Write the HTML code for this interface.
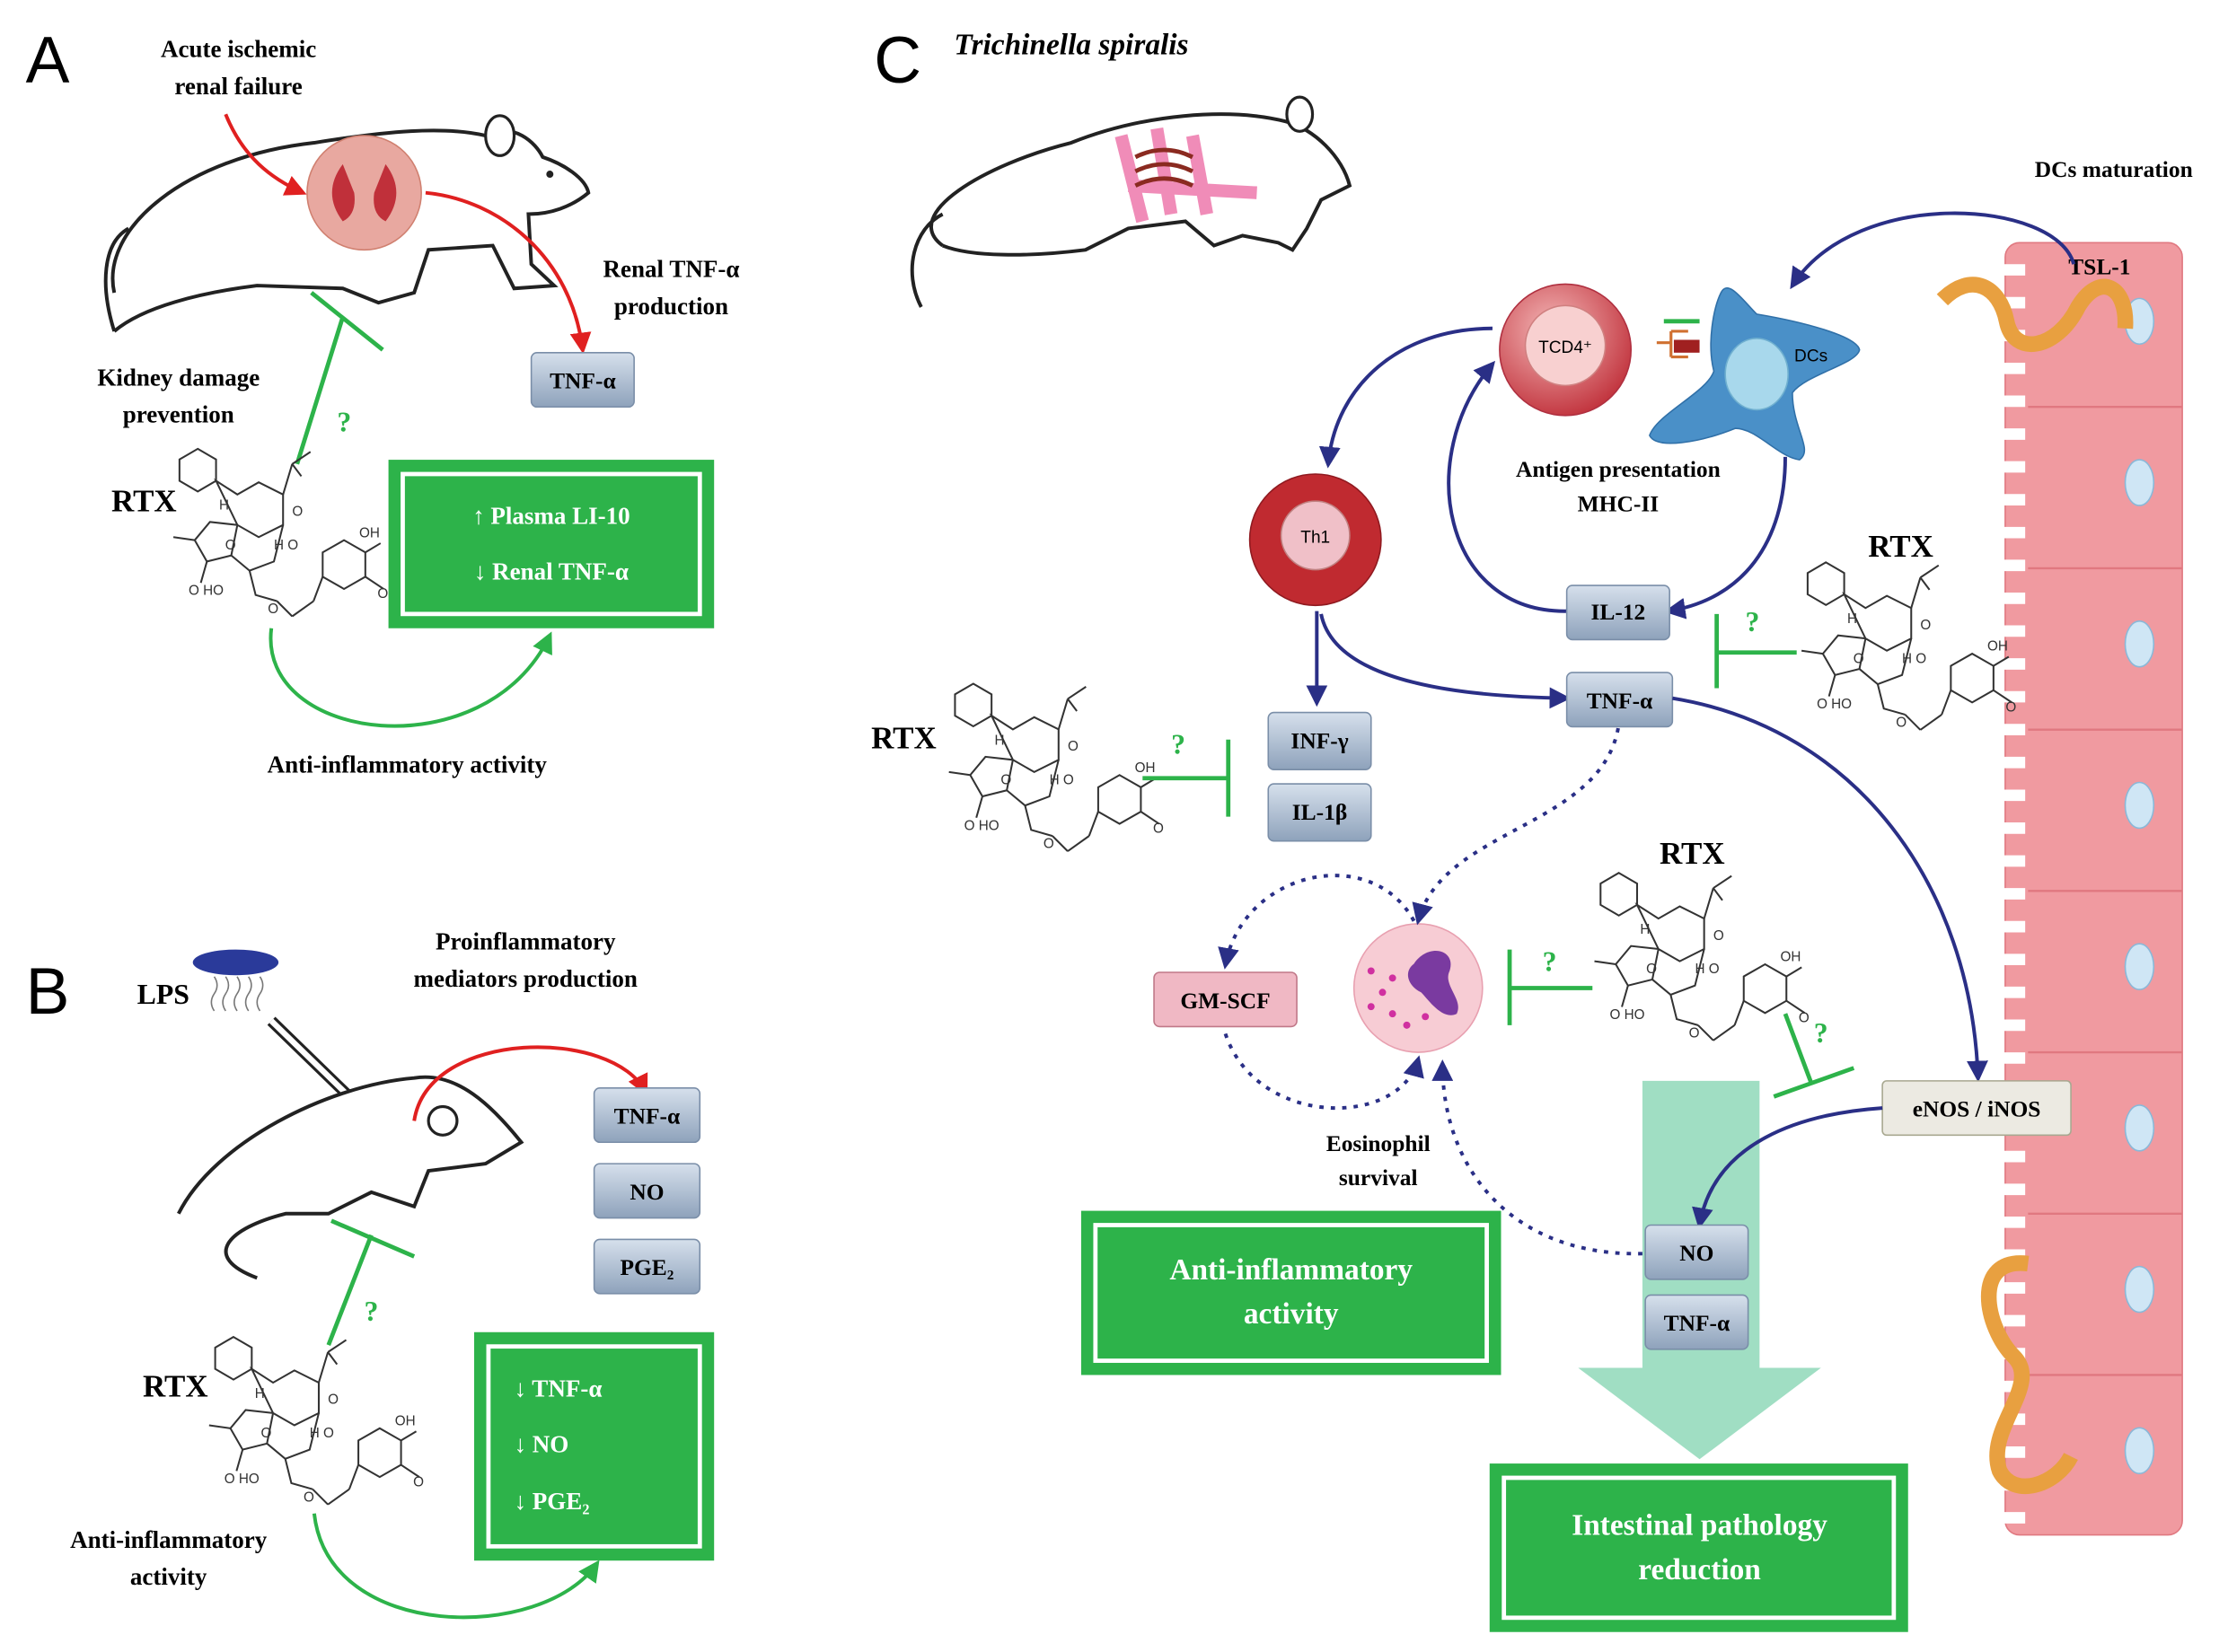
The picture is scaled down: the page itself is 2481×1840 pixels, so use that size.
<!DOCTYPE html>
<html><head><meta charset="utf-8"><style>
html,body{margin:0;padding:0;background:#fff;}
svg{display:block;}
text{font-family:"Liberation Serif",serif;font-weight:bold;}
text.s{font-family:"Liberation Sans",sans-serif;font-weight:normal;}
</style></head><body>
<svg width="2481" height="1840" viewBox="0 0 1560 1157" preserveAspectRatio="none" xmlns="http://www.w3.org/2000/svg">
<defs>
<marker id="ab" viewBox="0 0 10 10" refX="8" refY="5" markerWidth="6" markerHeight="6" orient="auto"><path d="M0,0L10,5L0,10z" fill="#2a2f86"/></marker>
<marker id="ar" viewBox="0 0 10 10" refX="8" refY="5" markerWidth="6" markerHeight="6" orient="auto"><path d="M0,0L10,5L0,10z" fill="#e02020"/></marker>
<marker id="ag" viewBox="0 0 10 10" refX="8" refY="5" markerWidth="6" markerHeight="6" orient="auto"><path d="M0,0L10,5L0,10z" fill="#2db34a"/></marker>
<linearGradient id="bx" x1="0" y1="0" x2="0" y2="1"><stop offset="0" stop-color="#d6e0ec"/><stop offset="1" stop-color="#8ea2bb"/></linearGradient>
<radialGradient id="red" cx="0.4" cy="0.35" r="0.7"><stop offset="0" stop-color="#f4b8b8"/><stop offset="1" stop-color="#c0303a"/></radialGradient>
<symbol id="mol" viewBox="0 0 150 110">
<g fill="none" stroke="#333" stroke-width="1.2">
<polygon points="22,0 34,7 34,21 22,28 10,21 10,7"/>
<path d="M34,21 L48,30 L62,22 L78,30 L78,50 L62,58 L48,50 Z"/>
<path d="M78,30 L84,10 M84,10 L96,2 M84,10 L90,18"/>
<path d="M48,50 L30,48 L20,60 L28,74 L44,70 L48,50"/>
<path d="M44,70 L56,80 L72,74 L78,50"/>
<path d="M56,80 L60,96 L74,100"/>
<path d="M74,100 L84,110 M84,110 L98,100"/>
<polygon points="104,68 118,60 132,68 132,84 118,92 104,84"/>
<path d="M98,100 L104,84 M132,68 L142,62 M132,84 L144,92"/>
<path d="M20,60 L6,58 M28,74 L24,88"/>
</g>
<g font-size="9" fill="#333">
<text class="s" x="36" y="40">H</text><text class="s" x="84" y="44">O</text><text class="s" x="72" y="66">H O</text>
<text class="s" x="40" y="66">O</text><text class="s" x="16" y="96">O HO</text><text class="s" x="128" y="58">OH</text><text class="s" x="140" y="98">O</text><text class="s" x="68" y="108">O</text>
</g>
</symbol>
</defs>

<!-- Panel labels -->
<text class="s" x="18" y="58" font-size="46">A</text>
<text class="s" x="18" y="710" font-size="46">B</text>
<text class="s" x="612" y="58" font-size="46">C</text>

<!-- ===== Panel A ===== -->
<text x="167" y="40" font-size="17" text-anchor="middle">Acute ischemic</text>
<text x="167" y="66" font-size="17" text-anchor="middle">renal failure</text>
<path d="M80,205 C70,160 130,110 220,100 C270,92 310,88 340,95 C360,85 375,100 380,110 C395,115 410,125 412,135 C400,145 385,150 370,150 L372,185 L388,200 L360,202 L345,172 L300,175 L290,205 L265,212 L240,202 L180,200 C140,205 100,215 80,232" fill="#fff" stroke="#222" stroke-width="2.5"/>
<path d="M80,232 C70,200 72,170 90,160" fill="none" stroke="#222" stroke-width="2.5"/>
<ellipse cx="350" cy="95" rx="10" ry="14" fill="#fff" stroke="#222" stroke-width="2"/>
<circle cx="385" cy="122" r="2.5" fill="#222"/>
<circle cx="255" cy="135" r="40" fill="#e8a8a0" stroke="#d08070"/>
<path d="M240,115 q-15,20 0,40 q10,-5 8,-20 z M270,115 q15,20 0,40 q-10,-5 -8,-20 z" fill="#c0303a"/>
<path d="M158,80 C170,110 190,125 212,135" fill="none" stroke="#e02020" stroke-width="2.5" marker-end="url(#ar)"/>
<path d="M298,135 C350,140 400,180 408,245" fill="none" stroke="#e02020" stroke-width="2.5" marker-end="url(#ar)"/>
<text x="470" y="194" font-size="17" text-anchor="middle">Renal TNF-α</text>
<text x="470" y="220" font-size="17" text-anchor="middle">production</text>
<rect x="372" y="247" width="72" height="38" rx="4" fill="url(#bx)" stroke="#7a8ea8"/>
<text x="408" y="272" font-size="16" text-anchor="middle">TNF-α</text>
<text x="125" y="270" font-size="17" text-anchor="middle">Kidney damage</text>
<text x="125" y="296" font-size="17" text-anchor="middle">prevention</text>
<path d="M208,325 L240,222 M218,205 L268,245" stroke="#2db34a" stroke-width="3" fill="none"/>
<text x="236" y="302" font-size="20" fill="#2db34a">?</text>
<text x="78" y="358" font-size="22">RTX</text>
<use href="#mol" x="115" y="308" width="160" height="130"/>
<rect x="272" y="322" width="228" height="118" fill="#2db34a"/>
<rect x="282" y="332" width="208" height="98" fill="none" stroke="#fff" stroke-width="3"/>
<text x="386" y="367" font-size="17" fill="#fff" text-anchor="middle">↑ Plasma LI-10</text>
<text x="386" y="406" font-size="17" fill="#fff" text-anchor="middle">↓ Renal TNF-α</text>
<path d="M190,440 C180,520 340,540 385,445" fill="none" stroke="#2db34a" stroke-width="2.5" marker-end="url(#ag)"/>
<text x="285" y="541" font-size="17" text-anchor="middle">Anti-inflammatory activity</text>

<!-- ===== Panel B ===== -->
<ellipse cx="165" cy="674" rx="30" ry="9" fill="#2a3a9a"/>
<path d="M150,684 q4,6 0,12 q-4,6 0,12 M158,684 q4,6 0,12 q-4,6 0,12 M166,684 q4,6 0,12 q-4,6 0,12 M174,684 q4,6 0,12 q-4,6 0,12 M182,684 q4,6 0,12 q-4,6 0,12" stroke="#777" fill="none"/>
<text x="96" y="703" font-size="20">LPS</text>
<path d="M190,715 L262,785" stroke="#222" stroke-width="8"/>
<path d="M190,715 L262,785" stroke="#fff" stroke-width="4"/>
<text x="368" y="665" font-size="17" text-anchor="middle">Proinflammatory</text>
<text x="368" y="691" font-size="17" text-anchor="middle">mediators production</text>
<path d="M125,850 C150,800 230,760 290,755 C320,750 345,775 365,800 L340,815 L300,820 L290,845 L260,835 L230,850 L200,850 C160,860 140,880 180,895" fill="#fff" stroke="#222" stroke-width="2.5"/>
<circle cx="310" cy="785" r="10" fill="#fff" stroke="#222" stroke-width="2"/>
<path d="M290,785 C300,720 430,720 452,765" fill="none" stroke="#e02020" stroke-width="2.5" marker-end="url(#ar)"/>
<rect x="416" y="762" width="74" height="38" rx="4" fill="url(#bx)" stroke="#7a8ea8"/>
<text x="453" y="787" font-size="16" text-anchor="middle">TNF-α</text>
<rect x="416" y="815" width="74" height="38" rx="4" fill="url(#bx)" stroke="#7a8ea8"/>
<text x="453" y="840" font-size="16" text-anchor="middle">NO</text>
<rect x="416" y="868" width="74" height="38" rx="4" fill="url(#bx)" stroke="#7a8ea8"/>
<text x="453" y="893" font-size="16" text-anchor="middle">PGE₂</text>
<path d="M230,942 L260,865 M232,855 L290,880" stroke="#2db34a" stroke-width="3" fill="none"/>
<text x="255" y="925" font-size="20" fill="#2db34a">?</text>
<text x="100" y="978" font-size="22">RTX</text>
<use href="#mol" x="140" y="930" width="160" height="130"/>
<rect x="332" y="933" width="168" height="160" fill="#2db34a"/>
<rect x="342" y="943" width="148" height="140" fill="none" stroke="#fff" stroke-width="3"/>
<text x="360" y="978" font-size="17" fill="#fff">↓ TNF-α</text>
<text x="360" y="1017" font-size="17" fill="#fff">↓ NO</text>
<text x="360" y="1057" font-size="17" fill="#fff">↓ PGE₂</text>
<path d="M220,1060 C230,1150 380,1150 418,1095" fill="none" stroke="#2db34a" stroke-width="2.5" marker-end="url(#ag)"/>
<text x="118" y="1084" font-size="17" text-anchor="middle">Anti-inflammatory</text>
<text x="118" y="1110" font-size="17" text-anchor="middle">activity</text>

<!-- ===== Panel C ===== -->
<text x="668" y="38" font-size="21" font-style="italic">Trichinella spiralis</text>
<path d="M660,172 C630,150 690,115 750,100 C800,80 860,75 900,85 C920,90 940,110 945,130 L925,140 L915,160 L905,175 L895,170 L870,165 L850,172 L830,155 L790,160 L760,175 C720,180 680,180 660,172" fill="#fff" stroke="#222" stroke-width="2.5"/>
<path d="M645,215 C632,190 640,160 660,150" fill="none" stroke="#222" stroke-width="2.5"/>
<ellipse cx="910" cy="80" rx="9" ry="12" fill="#fff" stroke="#222" stroke-width="2"/>
<path d="M785,95 L800,155 M810,90 L820,150 M835,95 L845,150 M790,130 L880,135" stroke="#f08cb8" stroke-width="9" fill="none"/>
<path d="M795,110 q20,-10 40,0 M795,120 q20,-10 40,0 M795,130 q20,-10 40,0" stroke="#8a2a20" stroke-width="3" fill="none"/>

<!-- intestine -->
<rect x="1404" y="170" width="124" height="905" rx="10" fill="#f09aa0" stroke="#e07880"/>
<g stroke="#e07880" stroke-width="1.5">
<line x1="1420" y1="285" x2="1528" y2="285"/><line x1="1420" y1="398" x2="1528" y2="398"/><line x1="1420" y1="511" x2="1528" y2="511"/><line x1="1420" y1="624" x2="1528" y2="624"/><line x1="1420" y1="737" x2="1528" y2="737"/><line x1="1420" y1="850" x2="1528" y2="850"/><line x1="1420" y1="963" x2="1528" y2="963"/>
</g>
<g fill="#fff">
<path d="M1403,185 h15 v8 h-15 z M1403,208 h15 v8 h-15 z M1403,231 h15 v8 h-15 z M1403,254 h15 v8 h-15 z M1403,277 h15 v8 h-15 z M1403,300 h15 v8 h-15 z M1403,323 h15 v8 h-15 z M1403,346 h15 v8 h-15 z M1403,369 h15 v8 h-15 z M1403,392 h15 v8 h-15 z M1403,415 h15 v8 h-15 z M1403,438 h15 v8 h-15 z M1403,461 h15 v8 h-15 z M1403,484 h15 v8 h-15 z M1403,507 h15 v8 h-15 z M1403,530 h15 v8 h-15 z M1403,553 h15 v8 h-15 z M1403,576 h15 v8 h-15 z M1403,599 h15 v8 h-15 z M1403,622 h15 v8 h-15 z M1403,645 h15 v8 h-15 z M1403,668 h15 v8 h-15 z M1403,691 h15 v8 h-15 z M1403,714 h15 v8 h-15 z M1403,737 h15 v8 h-15 z M1403,760 h15 v8 h-15 z M1403,783 h15 v8 h-15 z M1403,806 h15 v8 h-15 z M1403,829 h15 v8 h-15 z M1403,852 h15 v8 h-15 z M1403,875 h15 v8 h-15 z M1403,898 h15 v8 h-15 z M1403,921 h15 v8 h-15 z M1403,944 h15 v8 h-15 z M1403,967 h15 v8 h-15 z M1403,990 h15 v8 h-15 z M1403,1013 h15 v8 h-15 z M1403,1036 h15 v8 h-15 z M1403,1059 h15 v8 h-15 z"/>
</g>
<g fill="#cfe6f5" stroke="#8ab8d8">
<ellipse cx="1498" cy="225" rx="10" ry="16"/><ellipse cx="1498" cy="338" rx="10" ry="16"/><ellipse cx="1498" cy="451" rx="10" ry="16"/><ellipse cx="1498" cy="564" rx="10" ry="16"/><ellipse cx="1498" cy="677" rx="10" ry="16"/><ellipse cx="1498" cy="790" rx="10" ry="16"/><ellipse cx="1498" cy="903" rx="10" ry="16"/><ellipse cx="1498" cy="1016" rx="10" ry="16"/>
</g>
<path d="M1360,210 C1380,190 1400,200 1405,225 C1410,250 1440,245 1455,215 C1470,190 1490,200 1488,230" fill="none" stroke="#e8a040" stroke-width="11"/>
<path d="M1420,885 C1380,880 1390,930 1410,950 C1430,970 1390,1000 1400,1030 C1410,1050 1440,1040 1450,1020" fill="none" stroke="#e8a040" stroke-width="11"/>
<text x="1470" y="192" font-size="16" text-anchor="middle">TSL-1</text>
<text x="1480" y="124" font-size="16" text-anchor="middle">DCs maturation</text>
<path d="M1452,185 C1440,140 1300,130 1255,200" fill="none" stroke="#2a2f86" stroke-width="2.5" marker-end="url(#ab)"/>

<!-- TCD4 and DCs -->
<circle cx="1096" cy="245" r="46" fill="url(#red)" stroke="#b03040"/>
<circle cx="1096" cy="242" r="28" fill="#f8d0d0" stroke="#d08080"/>
<text class="s" x="1096" y="247" font-size="12" text-anchor="middle">TCD4⁺</text>
<path d="M1160,240 h10 M1170,232 v18 M1170,232 h12 M1170,250 h12" stroke="#d07030" stroke-width="2" fill="none"/>
<rect x="1172" y="238" width="18" height="9" fill="#a02020"/>
<line x1="1165" y1="225" x2="1190" y2="225" stroke="#2db34a" stroke-width="3"/>
<path d="M1205,205 C1210,195 1220,210 1230,220 C1260,225 1300,235 1302,245 C1300,255 1265,262 1255,275 C1255,300 1270,315 1260,322 C1245,320 1230,300 1215,300 C1190,310 1160,315 1155,305 C1160,290 1195,275 1200,260 C1195,240 1200,215 1205,205 z" fill="#4a90c8" stroke="#3070a8"/>
<ellipse cx="1230" cy="262" rx="22" ry="25" fill="#a8d8ec" stroke="#70b0d0"/>
<text class="s" x="1268" y="253" font-size="12" text-anchor="middle">DCs</text>
<text x="1133" y="334" font-size="16" text-anchor="middle">Antigen presentation</text>
<text x="1133" y="358" font-size="16" text-anchor="middle">MHC-II</text>

<!-- Th1 -->
<circle cx="921" cy="378" r="46" fill="#c02a30" stroke="#901a20"/>
<circle cx="921" cy="375" r="24" fill="#f0c0c8" stroke="#c08080"/>
<text class="s" x="921" y="380" font-size="12" text-anchor="middle">Th1</text>
<path d="M1045,230 C980,230 935,270 930,325" fill="none" stroke="#2a2f86" stroke-width="2.5" marker-end="url(#ab)"/>
<path d="M1098,428 C1010,430 990,320 1045,255" fill="none" stroke="#2a2f86" stroke-width="2.5" marker-end="url(#ab)"/>
<path d="M1250,320 C1250,380 1220,420 1168,428" fill="none" stroke="#2a2f86" stroke-width="2.5" marker-end="url(#ab)"/>
<rect x="1097" y="410" width="72" height="38" rx="4" fill="url(#bx)" stroke="#7a8ea8"/>
<text x="1133" y="434" font-size="16" text-anchor="middle">IL-12</text>
<path d="M922,428 L922,492" fill="none" stroke="#2a2f86" stroke-width="2.5" marker-end="url(#ab)"/>
<path d="M925,430 C935,480 1030,488 1097,489" fill="none" stroke="#2a2f86" stroke-width="2.5" marker-end="url(#ab)"/>
<rect x="1097" y="471" width="74" height="38" rx="4" fill="url(#bx)" stroke="#7a8ea8"/>
<text x="1134" y="496" font-size="16" text-anchor="middle">TNF-α</text>
<rect x="888" y="499" width="72" height="40" rx="4" fill="url(#bx)" stroke="#7a8ea8"/>
<text x="924" y="524" font-size="16" text-anchor="middle">INF-γ</text>
<rect x="888" y="549" width="72" height="40" rx="4" fill="url(#bx)" stroke="#7a8ea8"/>
<text x="924" y="574" font-size="16" text-anchor="middle">IL-1β</text>

<!-- RTX right near IL-12 -->
<text x="1308" y="390" font-size="22">RTX</text>
<use href="#mol" x="1255" y="390" width="160" height="125"/>
<path d="M1258,457 L1202,457 M1202,430 L1202,482" stroke="#2db34a" stroke-width="3" fill="none"/>
<text x="1222" y="442" font-size="20" fill="#2db34a">?</text>

<!-- RTX left -->
<text x="610" y="524" font-size="22">RTX</text>
<use href="#mol" x="658" y="475" width="160" height="125"/>
<path d="M800,545 L860,545 M860,518 L860,572" stroke="#2db34a" stroke-width="3" fill="none"/>
<text x="820" y="528" font-size="20" fill="#2db34a">?</text>

<!-- eosinophil -->
<circle cx="993" cy="692" r="45" fill="#f7ccd4" stroke="#e8a0b0"/>
<path d="M990,675 C1000,660 1020,665 1015,680 C1010,690 1025,700 1020,710 C1010,715 1000,700 995,695 C985,690 983,680 990,675 z" fill="#7a3aa0"/>
<g fill="#d030a0"><circle cx="960" cy="680" r="2.5"/><circle cx="968" cy="695" r="2.5"/><circle cx="975" cy="710" r="2.5"/><circle cx="985" cy="718" r="2.5"/><circle cx="960" cy="705" r="2.5"/><circle cx="975" cy="685" r="2.5"/><circle cx="998" cy="712" r="2.5"/></g>
<rect x="808" y="681" width="100" height="38" rx="4" fill="#f0b8c4" stroke="#c07888"/>
<text x="858" y="706" font-size="16" text-anchor="middle">GM-SCF</text>
<g fill="none" stroke="#2a2f86" stroke-width="2.5" stroke-dasharray="3,5">
<path d="M1133,510 C1120,580 1010,580 993,645" marker-end="url(#ab)"/>
<path d="M990,645 C960,590 870,610 858,676" marker-end="url(#ab)"/>
<path d="M858,724 C880,790 980,790 993,742" marker-end="url(#ab)"/>
<path d="M1150,878 C1060,880 1010,820 1010,745" marker-end="url(#ab)"/>
</g>
<text x="965" y="806" font-size="16" text-anchor="middle">Eosinophil</text>
<text x="965" y="830" font-size="16" text-anchor="middle">survival</text>

<!-- RTX middle -->
<text x="1162" y="605" font-size="22">RTX</text>
<use href="#mol" x="1110" y="605" width="160" height="130"/>
<path d="M1115,692 L1057,692 M1057,665 L1057,718" stroke="#2db34a" stroke-width="3" fill="none"/>
<text x="1080" y="680" font-size="20" fill="#2db34a">?</text>
<path d="M1250,710 L1268,758 M1242,768 L1298,748" stroke="#2db34a" stroke-width="3" fill="none"/>
<text x="1270" y="730" font-size="20" fill="#2db34a">?</text>

<!-- TNF to eNOS -->
<path d="M1171,489 C1300,510 1380,620 1385,755" fill="none" stroke="#2a2f86" stroke-width="2.5" marker-end="url(#ab)"/>

<!-- big arrow -->
<path d="M1150,757 L1232,757 L1232,958 L1275,958 L1190,1022 L1105,958 L1150,958 Z" fill="#8fd8b8" opacity="0.85"/>
<rect x="1318" y="757" width="132" height="38" rx="3" fill="#eceae2" stroke="#a8a890"/>
<text x="1384" y="782" font-size="16" text-anchor="middle">eNOS / iNOS</text>
<path d="M1318,776 C1260,780 1200,800 1190,858" fill="none" stroke="#2a2f86" stroke-width="2.5" marker-end="url(#ab)"/>
<rect x="1152" y="858" width="72" height="38" rx="4" fill="url(#bx)" stroke="#7a8ea8"/>
<text x="1188" y="883" font-size="16" text-anchor="middle">NO</text>
<rect x="1152" y="907" width="72" height="38" rx="4" fill="url(#bx)" stroke="#7a8ea8"/>
<text x="1188" y="932" font-size="16" text-anchor="middle">TNF-α</text>

<rect x="757" y="848" width="294" height="115" fill="#2db34a"/>
<rect x="767" y="858" width="274" height="95" fill="none" stroke="#fff" stroke-width="3"/>
<text x="904" y="896" font-size="21" fill="#fff" text-anchor="middle">Anti-inflammatory</text>
<text x="904" y="927" font-size="21" fill="#fff" text-anchor="middle">activity</text>

<rect x="1043" y="1025" width="293" height="118" fill="#2db34a"/>
<rect x="1053" y="1035" width="273" height="98" fill="none" stroke="#fff" stroke-width="3"/>
<text x="1190" y="1075" font-size="21" fill="#fff" text-anchor="middle">Intestinal pathology</text>
<text x="1190" y="1106" font-size="21" fill="#fff" text-anchor="middle">reduction</text>
</svg>
</body></html>
